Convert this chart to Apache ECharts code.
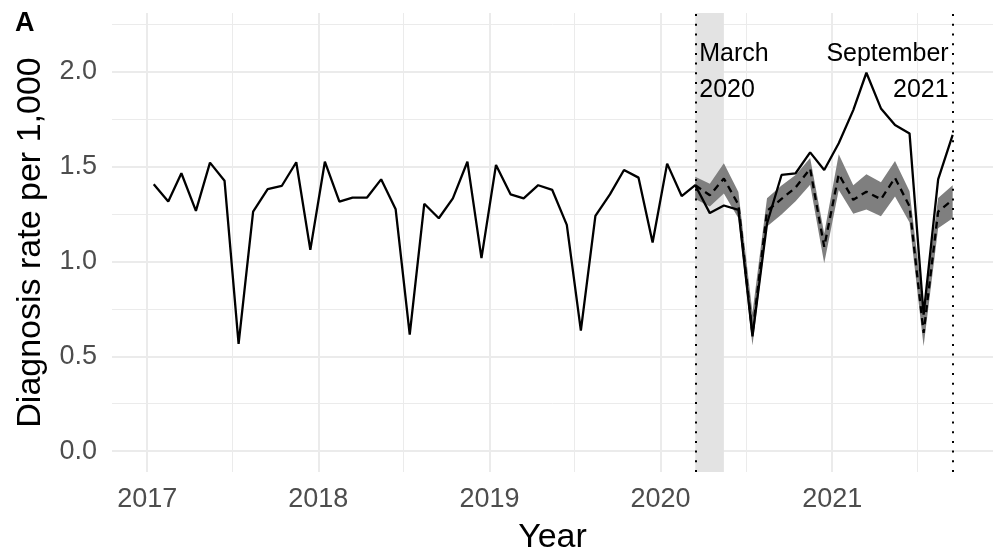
<!DOCTYPE html>
<html>
<head>
<meta charset="utf-8">
<script src="https://cdn.jsdelivr.net/npm/echarts@6/dist/echarts.min.js"></script>
<style>
  html, body { margin: 0; padding: 0; background: #fff; }
  #chart { width: 1003px; height: 554px; }
</style>
</head>
<body>
<div id="chart"></div>
<script>
// monthly points, plotted mid-month
const months = [
  '2017-01-15','2017-02-15','2017-03-15','2017-04-15','2017-05-15','2017-06-15','2017-07-15','2017-08-15','2017-09-15','2017-10-15','2017-11-15','2017-12-15',
  '2018-01-15','2018-02-15','2018-03-15','2018-04-15','2018-05-15','2018-06-15','2018-07-15','2018-08-15','2018-09-15','2018-10-15','2018-11-15','2018-12-15',
  '2019-01-15','2019-02-15','2019-03-15','2019-04-15','2019-05-15','2019-06-15','2019-07-15','2019-08-15','2019-09-15','2019-10-15','2019-11-15','2019-12-15',
  '2020-01-15','2020-02-15','2020-03-15','2020-04-15','2020-05-15','2020-06-15','2020-07-15','2020-08-15','2020-09-15','2020-10-15','2020-11-15','2020-12-15',
  '2021-01-15','2021-02-15','2021-03-15','2021-04-15','2021-05-15','2021-06-15','2021-07-15','2021-08-15','2021-09-15'
];

const observed = [
  1.407, 1.316, 1.465, 1.267, 1.521, 1.426, 0.565, 1.263, 1.382, 1.398, 1.523, 1.061,
  1.526, 1.316, 1.337, 1.337, 1.433, 1.275, 0.614, 1.304, 1.228, 1.333, 1.526, 1.018,
  1.509, 1.354, 1.333, 1.402, 1.377, 1.193, 0.635, 1.240, 1.354, 1.482, 1.442, 1.100,
  1.516, 1.345, 1.402, 1.255, 1.295, 1.272, 0.605, 1.200, 1.456, 1.465, 1.575, 1.482,
  1.623, 1.798, 1.995, 1.807, 1.719, 1.675, 0.720, 1.433, 1.667
];

// counterfactual, March 2020 to September 2021
const expectedMonths = months.slice(38);
const expected = [1.402, 1.349, 1.437, 1.300, 0.620, 1.266, 1.330, 1.390, 1.489, 1.077, 1.460, 1.325, 1.368, 1.328, 1.441, 1.290, 0.623, 1.263, 1.325];
const lower    = [1.330, 1.290, 1.358, 1.228, 0.557, 1.185, 1.248, 1.318, 1.405, 0.990, 1.377, 1.252, 1.274, 1.238, 1.342, 1.205, 0.553, 1.175, 1.228];
const upper    = [1.447, 1.410, 1.518, 1.366, 0.730, 1.333, 1.400, 1.456, 1.545, 1.148, 1.565, 1.402, 1.460, 1.418, 1.530, 1.370, 0.750, 1.335, 1.402];

const yTicks = [0, 0.5, 1, 1.5, 2];
const yMinor = [0.25, 0.75, 1.25, 1.75, 2.25];
const yearTicks = ['2017-01-01', '2018-01-01', '2019-01-01', '2020-01-01', '2021-01-01'];
const midYears = ['2017-07-01', '2018-07-01', '2019-07-01', '2020-07-01', '2021-07-01'];

const lockdown = ['2020-03-15', '2020-05-15'];
const events = [
  {date: '2020-03-15', text: 'March\n2020', side: 'right'},
  {date: '2021-09-15', text: 'September\n2021', side: 'left'}
];

const t = s => new Date(s + 'T00:00:00').getTime();
const FONT = '"Liberation Sans", Arial, sans-serif';
const GRID = '#ebebeb';

const chart = echarts.init(document.getElementById('chart'), null, {renderer: 'canvas'});

const gridLines = [
  ...yTicks.map(v => ({yAxis: v, lineStyle: {width: 2}})),
  ...yMinor.map(v => ({yAxis: v, lineStyle: {width: 1}})),
  ...yearTicks.map(d => ({xAxis: t(d), lineStyle: {width: 2}})),
  ...midYears.map(d => ({xAxis: t(d), lineStyle: {width: 1}}))
];

const bandData = expectedMonths.map((d, i) => [t(d), lower[i], upper[i]]);

const option = {
  animation: false,
  textStyle: {fontFamily: FONT},
  title: {
    text: 'A', left: 10, top: 5,
    textStyle: {fontSize: 27, fontWeight: 'bold', color: '#000', fontFamily: FONT}
  },
  grid: {left: 112, right: 10, top: 13, bottom: 82, outerBoundsMode: 'none'},
  xAxis: {
    type: 'value',
    min: t('2016-10-18'),
    max: t('2021-12-10'),
    axisLine: {show: false},
    axisTick: {show: false},
    splitLine: {show: false},
    axisLabel: {
      customValues: yearTicks.map(t),
      formatter: v => String(new Date(v).getFullYear()),
      fontSize: 27, color: '#4d4d4d', margin: 14, fontFamily: FONT
    },
    name: 'Year',
    nameLocation: 'middle',
    nameGap: 49,
    nameTextStyle: {fontSize: 34, color: '#000', fontFamily: FONT}
  },
  yAxis: {
    type: 'value',
    min: -0.11,
    max: 2.31,
    axisLine: {show: false},
    axisTick: {show: false},
    splitLine: {show: false},
    axisLabel: {
      customValues: yTicks,
      formatter: v => v.toFixed(1),
      fontSize: 27, color: '#4d4d4d', margin: 15, fontFamily: FONT
    },
    name: 'Diagnosis rate per 1,000',
    nameLocation: 'middle',
    nameGap: 64,
    nameTextStyle: {fontSize: 34, color: '#000', fontFamily: FONT}
  },
  series: [
    {
      name: 'band',
      type: 'custom',
      data: bandData,
      encode: {x: 0, y: [1, 2]},
      silent: true,
      z: 2,
      renderItem: (params, api) => {
        if (params.dataIndex !== 0) return null;
        const top = bandData.map(r => api.coord([r[0], r[2]]));
        const bottom = bandData.map(r => api.coord([r[0], r[1]])).reverse();
        return {
          type: 'polygon',
          shape: {points: top.concat(bottom)},
          style: {fill: '#7f7f7f'}
        };
      }
    },
    {
      name: 'expected',
      type: 'line',
      data: expectedMonths.map((d, i) => [t(d), expected[i]]),
      symbol: 'none',
      lineStyle: {color: '#000', width: 2.3, type: [7, 5]},
      z: 3,
      markLine: {
        silent: true, z: 0, symbol: ['none', 'none'],
        label: {show: false},
        lineStyle: {color: GRID, type: 'solid'},
        data: gridLines
      },
      markArea: {
        silent: true, z: 1,
        itemStyle: {color: '#e3e3e3'},
        data: [[{xAxis: t(lockdown[0])}, {xAxis: t(lockdown[1])}]]
      }
    },
    {
      name: 'observed',
      type: 'line',
      data: months.map((d, i) => [t(d), observed[i]]),
      symbol: 'none',
      lineStyle: {color: '#000', width: 2.3},
      z: 4,
      markLine: {
        silent: true, z: 5, symbol: ['none', 'none'],
        label: {show: false},
        lineStyle: {color: '#000', width: 2, type: [2, 7.7]},
        data: events.map(e => ({xAxis: t(e.date)}))
      },
      markPoint: {
        silent: true, z: 6,
        symbol: 'circle', symbolSize: 0,
        data: events.map(e => ({
          coord: [t(e.date), 2.0],
          label: {
            show: true,
            formatter: e.text,
            position: e.side,
            distance: 4,
            fontSize: 25,
            lineHeight: 36,
            color: '#000',
            fontFamily: FONT
          }
        }))
      }
    }
  ]
};

chart.setOption(option);
</script>
</body>
</html>
